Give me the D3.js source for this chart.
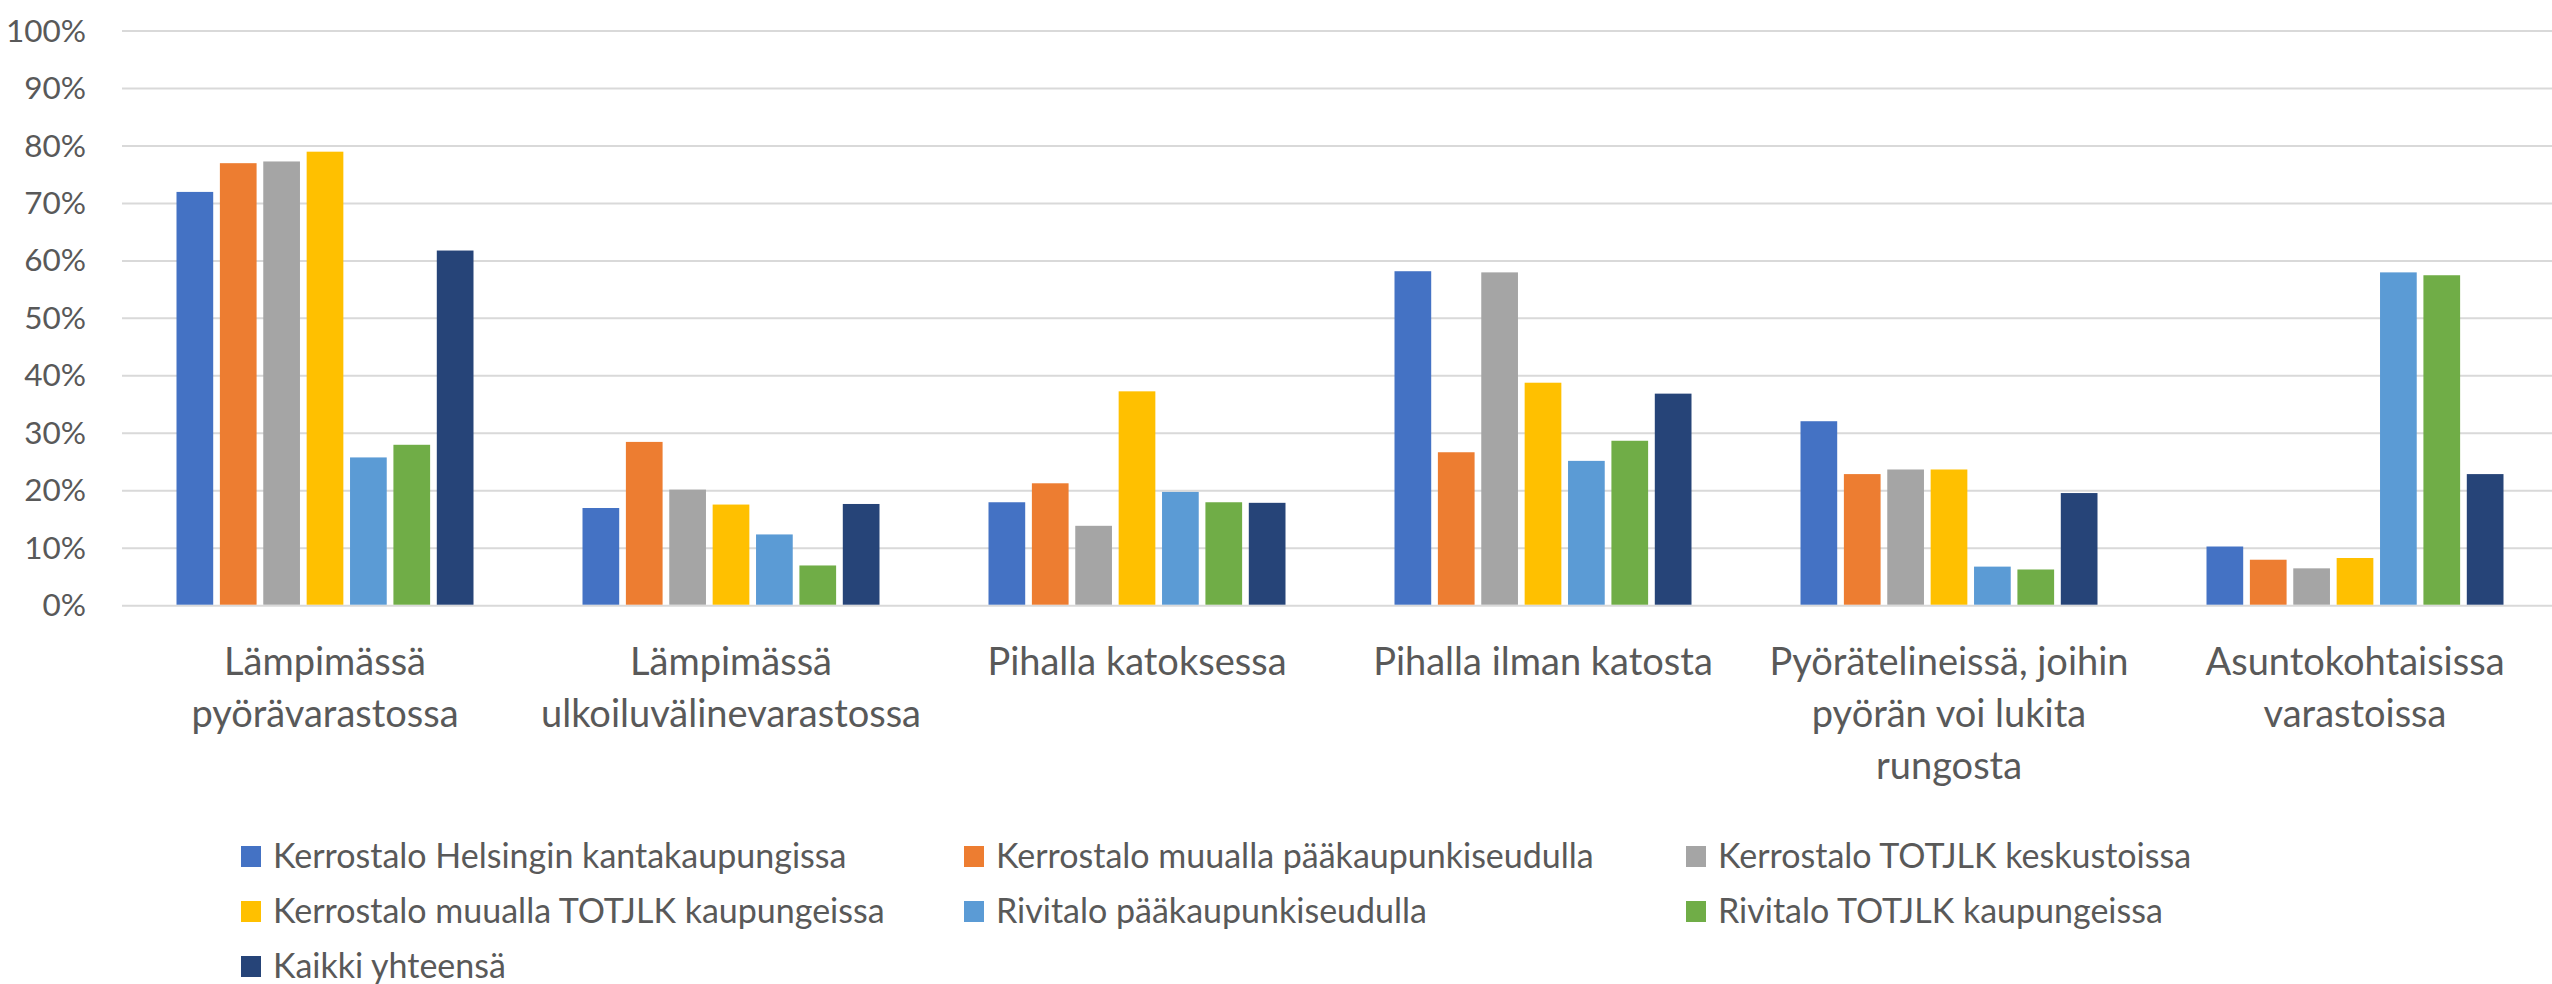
<!DOCTYPE html>
<html>
<head>
<meta charset="utf-8">
<script src="https://cdn.jsdelivr.net/npm/d3@7"></script>
<style>
  body { margin: 0; background: #fff; }
  svg { display: block; font-family: Lato, "Open Sans", sans-serif; }
</style>
</head>
<body>
<svg id="chart"></svg>
<script>
// Data
var categories = [
    ["Lämpimässä", "pyörävarastossa"],
    ["Lämpimässä", "ulkoiluvälinevarastossa"],
    ["Pihalla katoksessa"],
    ["Pihalla ilman katosta"],
    ["Pyörätelineissä, joihin", "pyörän voi lukita", "rungosta"],
    ["Asuntokohtaisissa", "varastoissa"]
];
var seriesNames = [
    "Kerrostalo Helsingin kantakaupungissa",
    "Kerrostalo muualla pääkaupunkiseudulla",
    "Kerrostalo TOTJLK keskustoissa",
    "Kerrostalo muualla TOTJLK kaupungeissa",
    "Rivitalo pääkaupunkiseudulla",
    "Rivitalo TOTJLK kaupungeissa",
    "Kaikki yhteensä"
];
var seriesColors = ["#4472C4", "#ED7D31", "#A5A5A5", "#FFC000", "#5B9BD5", "#70AD47", "#264478"];

// one array per series, values per category (share 0..1)
var helsinkiKanta  = [0.720, 0.170, 0.180, 0.582, 0.321, 0.103];
var muuPks         = [0.770, 0.285, 0.213, 0.267, 0.229, 0.080];
var totjlkKeskusta = [0.773, 0.202, 0.139, 0.580, 0.237, 0.065];
var muuTotjlk      = [0.790, 0.176, 0.373, 0.388, 0.237, 0.083];
var rivitaloPks    = [0.258, 0.124, 0.198, 0.252, 0.068, 0.580];
var rivitaloTotjlk = [0.280, 0.070, 0.180, 0.287, 0.063, 0.575];
var kaikki         = [0.618, 0.177, 0.179, 0.369, 0.196, 0.229];
var seriesValues = [helsinkiKanta, muuPks, totjlkKeskusta, muuTotjlk, rivitaloPks, rivitaloTotjlk, kaikki];

var yTicks = [0, 0.1, 0.2, 0.3, 0.4, 0.5, 0.6, 0.7, 0.8, 0.9, 1.0];

// Layout
var width = 2552;
var height = 984;
var textColor = "#595959";
var gridColor = "#d9d9d9";

var svg = d3.select("#chart")
    .attr("width", width)
    .attr("height", height);

// Scales
var x0 = d3.scaleBand()
    .domain(d3.range(categories.length))
    .range([122, 2558])
    .padding(0);

var groupPad = 54.5;
var x1 = d3.scaleBand()
    .domain(d3.range(seriesNames.length))
    .range([groupPad, x0.bandwidth() - groupPad])
    .paddingInner(0.154)
    .paddingOuter(0);

var y = d3.scaleLinear()
    .domain([0, 1])
    .range([605.7, 31]);

// Gridlines + y labels
var yAxis = d3.axisLeft(y)
    .tickValues(yTicks)
    .tickFormat(d3.format(".0%"))
    .tickSize(0)
    .tickPadding(36);

var gy = svg.append("g")
    .attr("transform", "translate(122,0)")
    .call(yAxis);
gy.select(".domain").remove();
gy.selectAll("text")
    .attr("fill", textColor)
    .style("font-size", "31.5px")
    .style("font-family", "Lato, sans-serif");

svg.append("g").selectAll("line")
    .data(yTicks)
    .enter().append("line")
    .attr("x1", 122)
    .attr("x2", width)
    .attr("y1", function (d) { return y(d); })
    .attr("y2", function (d) { return y(d); })
    .attr("stroke", gridColor)
    .attr("stroke-width", 2);

// Bars
var groups = svg.append("g").selectAll("g")
    .data(categories)
    .enter().append("g")
    .attr("transform", function (d, i) { return "translate(" + x0(i) + ",0)"; });

groups.selectAll("rect")
    .data(function (d, ci) {
        return seriesValues.map(function (vals, si) { return { s: si, v: vals[ci] }; });
    })
    .enter().append("rect")
    .attr("x", function (d) { return x1(d.s); })
    .attr("width", x1.bandwidth())
    .attr("y", function (d) { return y(d.v); })
    .attr("height", function (d) { return y(0) - y(d.v) - 1; })
    .attr("fill", function (d) { return seriesColors[d.s]; });

// Category labels (wrapped lines)
var catLabels = svg.append("g").selectAll("text")
    .data(categories)
    .enter().append("text")
    .attr("x", function (d, i) { return x0(i) + x0.bandwidth() / 2; })
    .attr("y", 675)
    .attr("text-anchor", "middle")
    .attr("fill", textColor)
    .style("font-size", "38px");

catLabels.selectAll("tspan")
    .data(function (d) { return d; })
    .enter().append("tspan")
    .attr("x", function () { return this.parentNode.getAttribute("x"); })
    .attr("dy", function (d, i) { return i ? 52 : 0; })
    .text(function (d) { return d; });

// Legend
var legendCols = [241, 964, 1686];
var legendRows = [856.5, 911.5, 966.5];

var legend = svg.append("g").selectAll("g")
    .data(seriesNames)
    .enter().append("g")
    .attr("transform", function (d, i) {
        return "translate(" + legendCols[i % 3] + "," + legendRows[Math.floor(i / 3)] + ")";
    });

legend.append("rect")
    .attr("x", 0)
    .attr("y", -10.5)
    .attr("width", 20)
    .attr("height", 21)
    .attr("fill", function (d, i) { return seriesColors[i]; });

legend.append("text")
    .attr("x", 32)
    .attr("y", 0)
    .attr("dy", "0.35em")
    .attr("fill", textColor)
    .style("font-size", "34px")
    .text(function (d) { return d; });
</script>
</body>
</html>
